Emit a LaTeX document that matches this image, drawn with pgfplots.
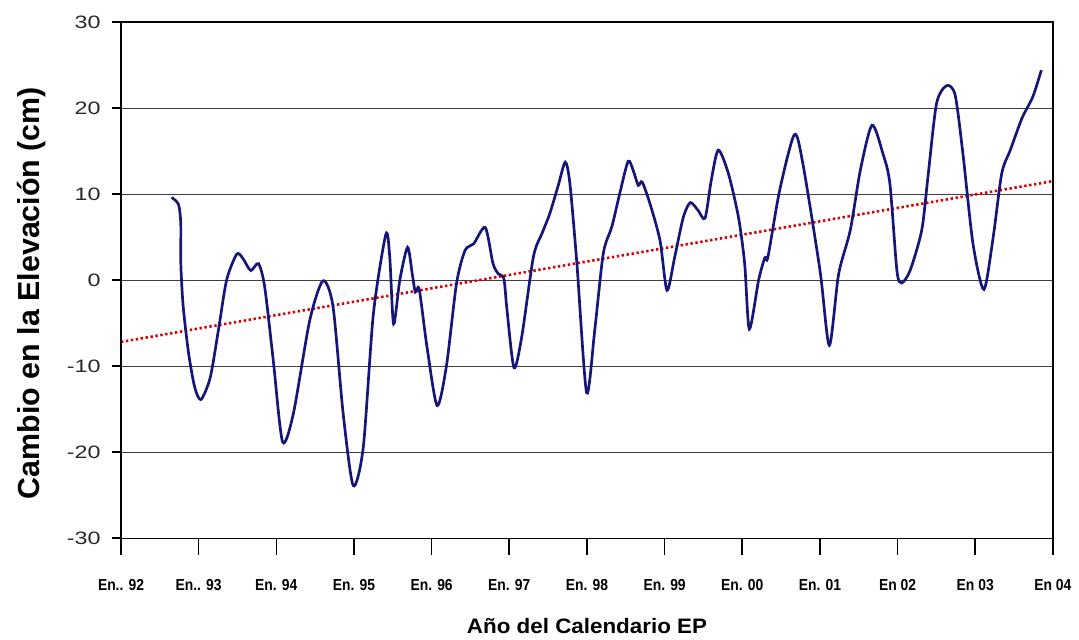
\documentclass[border=0pt]{standalone}
\usepackage{pgfplots}
\pgfplotsset{compat=1.18}
\usepackage{fontspec}
\setmainfont{Liberation Sans}
\newfontfamily\narrowfont[FakeStretch=0.87]{Liberation Sans Bold}
\newfontfamily\widefont[FakeStretch=1.3]{Liberation Sans}
\newfontfamily\widebold[FakeStretch=1.07]{Liberation Sans Bold}
\definecolor{navy}{RGB}{22,22,120}
\definecolor{tickgray}{RGB}{40,40,40}
\begin{document}
\begin{tikzpicture}
\begin{axis}[
  name=ax,
  scale only axis,
  width=932bp, height=516bp,
  xmin=1992, xmax=2004, ymin=-30, ymax=30,
  xtick={1992,...,2004},
  xticklabels={En.. 92,En.. 93,En. 94,En. 95,En. 96,En. 97,En. 98,En. 99,En. 00,En. 01,En 02,En 03,En 04},
  ytick={-30,-20,...,30},
  xtick pos=bottom, ytick pos=left,
  tick align=outside,
  major tick length=17bp,
  xtick style={line width=1.6pt, black},
  ytick style={line width=1.2pt, black, /pgfplots/major tick length=9bp},
  ymajorgrids,
  grid style={line width=0.8pt, black!75},
  axis line style={draw=none},
  ticklabel style={/pgf/number format/assume math mode=true},
  yticklabel style={font=\fontsize{18}{18}\widefont, text=tickgray, xshift=0bp},
  xticklabel style={font=\fontsize{16}{16}\narrowfont, text=black, yshift=-21bp},
  xlabel={Año del Calendario EP},
  ylabel={Cambio en la Elevación (cm)},
  xlabel style={font=\fontsize{21}{21}\widebold, yshift=-21bp},
  ylabel style={font=\fontsize{30.5}{30.5}\selectfont\bfseries, yshift=14bp, xshift=-13bp},
  clip=false,
]
\addplot[red!85!black, line width=2.6pt, dotted, dash pattern=on 2.4pt off 2.6pt] coordinates {(1992,-7.2) (2004,11.5)};
\addplot[navy, line width=2.7pt, smooth, tension=0.45] coordinates {
(1992.65,9.6) (1992.74,8.8) (1992.77,6.5) (1992.77,2.0) (1992.80,-3.0) (1992.87,-8.5) (1992.95,-12.5)
(1993.03,-13.9) (1993.15,-11.3) (1993.26,-5.5) (1993.36,0) (1993.49,3.0) (1993.57,2.5) (1993.67,1.1)
(1993.77,1.9) (1993.85,-0.8) (1993.96,-9.3) (1994.08,-18.8) (1994.22,-15.5) (1994.43,-4.7) (1994.60,-0.1)
(1994.73,-3.1) (1994.86,-15.5) (1994.99,-23.9) (1995.12,-19.4) (1995.25,-3.9) (1995.41,5.3) (1995.46,2.7)
(1995.51,-5.1) (1995.59,0) (1995.69,3.8) (1995.75,0.7) (1995.79,-1.4) (1995.84,-1.1) (1995.94,-7.8)
(1996.07,-14.6) (1996.19,-10) (1996.32,-0.4) (1996.43,3.45) (1996.54,4.2) (1996.69,6.1) (1996.79,1.9)
(1996.86,0.7) (1996.93,0.15) (1996.97,-3.5) (1997.06,-10.2) (1997.16,-6.6) (1997.31,2.7) (1997.42,5.4)
(1997.52,7.7) (1997.63,11.0) (1997.72,13.7) (1997.78,11.2) (1997.87,1.9) (1997.995,-13.1) (1998.10,-5.8)
(1998.21,3.1) (1998.32,6.2) (1998.42,10.0) (1998.53,13.8) (1998.60,12.6) (1998.66,11.0) (1998.71,11.4)
(1998.81,8.9) (1998.94,4.6) (1999.03,-1.2) (1999.13,2.7) (1999.24,7.3) (1999.33,9.0) (1999.43,8.1)
(1999.52,7.2) (1999.60,11.6) (1999.69,15.1) (1999.82,12.4) (1999.95,7.3) (2000.03,1.9) (2000.09,-5.7)
(2000.21,0) (2000.29,2.6) (2000.33,2.7) (2000.48,10.4) (2000.67,16.9) (2000.78,13.5) (2001.00,1.1)
(2001.12,-7.6) (2001.24,0.7) (2001.39,5.8) (2001.52,12.8) (2001.67,18.0) (2001.81,14.7) (2001.90,11.2)
(2001.99,1.1) (2002.05,-0.35) (2002.16,1.1) (2002.31,5.8) (2002.39,12.0) (2002.50,20.5) (2002.63,22.6)
(2002.74,21.5) (2002.84,14.7) (2002.97,4.2) (2003.11,-1.1) (2003.23,5.0) (2003.34,12.4) (2003.45,15.1)
(2003.60,18.8) (2003.74,21.3) (2003.85,24.4)
};
\draw[black, line width=2pt] (axis cs:1992,-30) -- (axis cs:1992,30) -- (axis cs:2004,30) -- (axis cs:2004,-30);
\draw[black, line width=0.8pt] (axis cs:1992,-30) -- (axis cs:2004,-30);
\end{axis}
\pgfresetboundingbox
\useasboundingbox ([xshift=-121bp,yshift=-102bp]ax.south west) rectangle ([xshift=26bp,yshift=22bp]ax.north east);
\end{tikzpicture}
\end{document}
